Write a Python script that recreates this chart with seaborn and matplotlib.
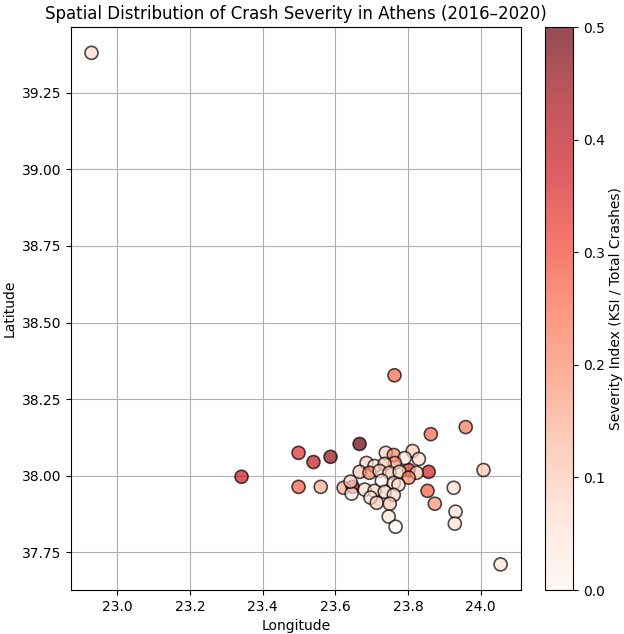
import matplotlib
matplotlib.use("Agg")
import matplotlib.pyplot as plt
import seaborn as sns
import numpy as np
import pandas as pd
from matplotlib.colors import Normalize, ListedColormap
from matplotlib.cm import ScalarMappable

# Crash locations (municipality centroids) and severity index
longitude = [22.929, 23.342, 23.499, 23.540, 23.587, 23.667, 23.499, 23.560, 23.623,
             23.648, 23.645, 23.642, 23.763, 24.055, 23.863, 23.959, 24.008, 23.857,
             23.802, 23.854, 23.874, 23.926, 23.931, 23.929, 23.739, 23.761, 23.813,
             23.830, 23.791, 23.764, 23.686, 23.708, 23.736, 23.667, 23.694, 23.722,
             23.749, 23.777, 23.824, 23.802, 23.728, 23.761, 23.774, 23.681, 23.708,
             23.736, 23.761, 23.697, 23.714, 23.750, 23.747, 23.766]
latitude = [39.380, 37.997, 38.075, 38.045, 38.062, 38.104, 37.964, 37.964, 37.961,
            37.964, 37.942, 37.981, 38.328, 37.711, 38.136, 38.159, 38.019, 38.013,
            38.019, 37.951, 37.909, 37.961, 37.883, 37.844, 38.075, 38.068, 38.081,
            38.055, 38.058, 38.042, 38.042, 38.032, 38.039, 38.013, 38.010, 38.016,
            38.010, 38.013, 38.010, 37.994, 37.984, 37.977, 37.971, 37.955, 37.951,
            37.948, 37.938, 37.929, 37.912, 37.909, 37.867, 37.834]
severity = [0.07, 0.38, 0.34, 0.39, 0.45, 0.50, 0.27, 0.15, 0.15,
            0.42, 0.03, 0.08, 0.25, 0.05, 0.26, 0.23, 0.11, 0.36,
            0.33, 0.27, 0.19, 0.06, 0.05, 0.05, 0.08, 0.20, 0.10,
            0.07, 0.03, 0.18, 0.08, 0.06, 0.10, 0.10, 0.20, 0.08,
            0.10, 0.08, 0.10, 0.20, 0.00, 0.07, 0.07, 0.07, 0.08,
            0.08, 0.08, 0.06, 0.10, 0.10, 0.05, 0.00]

df = pd.DataFrame({"Longitude": longitude, "Latitude": latitude, "Severity": severity})

fig = plt.figure(figsize=(6.24, 6.34), dpi=100)
ax = fig.add_axes([0.1138, 0.0694, 0.7212, 0.8876])
cax = fig.add_axes([0.874, 0.0694, 0.045, 0.8876])

norm = Normalize(vmin=0, vmax=0.5)
sns.scatterplot(data=df, x="Longitude", y="Latitude", hue="Severity",
                palette="Reds", hue_norm=norm, s=88, alpha=0.7,
                edgecolor="black", linewidth=1.2, legend=False, ax=ax)

ax.set_title("Spatial Distribution of Crash Severity in Athens (2016\u20132020)", fontsize=12)
ax.set_xlabel("Longitude")
ax.set_ylabel("Latitude")
ax.grid(True)
ax.set_axisbelow(True)

# translucent Reds for the colour bar, same alpha as the markers
reds = plt.get_cmap("Reds")(np.linspace(0, 1, 256))
reds[:, 3] = 0.7
sm = ScalarMappable(norm=norm, cmap=ListedColormap(reds))
cb = fig.colorbar(sm, cax=cax)
cb.set_label("Severity Index (KSI / Total Crashes)", labelpad=3)

fig.savefig("out.png", dpi=100)
